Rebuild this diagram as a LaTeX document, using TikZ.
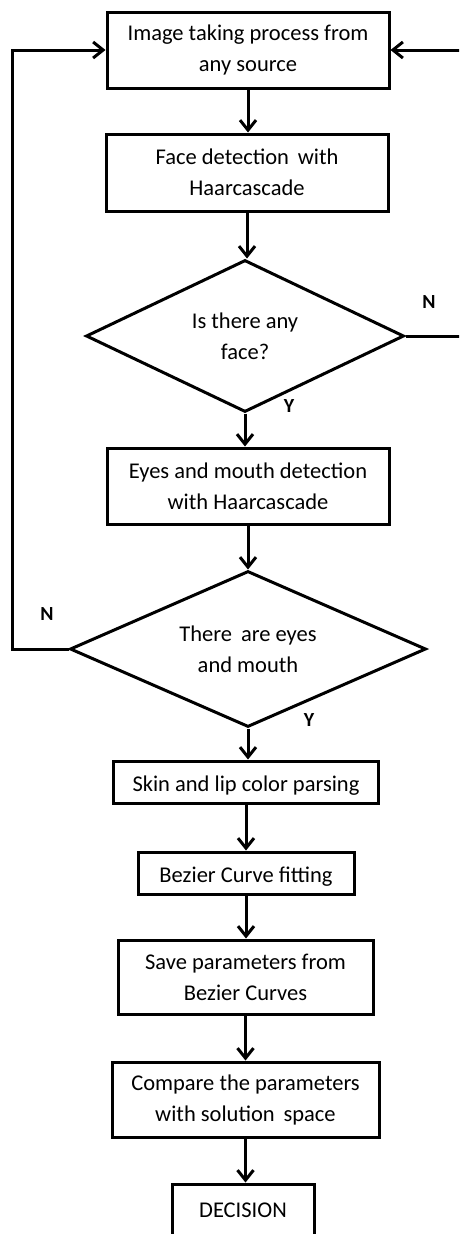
\documentclass[tikz,border=0pt]{standalone}
\usepackage{fontspec}
\setmainfont{Carlito}
\usetikzlibrary{shapes.geometric,arrows.meta}
\begin{document}
\begin{tikzpicture}[x=1pt,y=-1pt,
  every node/.style={font=\fontsize{22.5}{31}\selectfont},
  procbox/.style={draw,line width=3pt,rectangle,inner sep=0pt,align=center},
  decbox/.style={draw,line width=3pt,diamond,aspect=2.1,inner sep=0pt,align=center},
  yn/.style={font=\fontsize{20}{22}\selectfont\bfseries},
  arr/.style={line width=3pt,-{Straight Barb[length=10pt,width=16pt]}},
  ln/.style={line width=3pt}]
\clip (0,0) rectangle (459,1234);
\fill[white] (0,0) rectangle (459,1234);
\node[procbox,minimum width=282pt,minimum height=76pt] (b1) at (248,50) {Image taking process from\\any source};
\node[procbox,minimum width=282pt,minimum height=77pt] (b2) at (247,172.5) {Face detection\, with\\Haarcascade};
\node[decbox,minimum width=318pt,minimum height=152pt] (d1) at (245,336) {Is there any\\face?};
\node[procbox,minimum width=282pt,minimum height=76pt] (b3) at (248,486) {Eyes and mouth detection\\with Haarcascade};
\node[decbox,minimum width=356pt,minimum height=156pt] (d2) at (248,649) {There\, are eyes\\and mouth};
\node[procbox,minimum width=265pt,minimum height=42pt] (b4) at (246,782) {};
\node (t4) at (246,786) {Skin and lip color parsing};
\node[procbox,minimum width=216pt,minimum height=42pt] (b5) at (246,873) {};
\node (t5) at (246,877) {Bezier Curve fitting};
\node[procbox,minimum width=255pt,minimum height=74pt] (b6) at (245.5,977) {Save parameters from\\Bezier Curves};
\node[procbox,minimum width=267pt,minimum height=75pt] (b7) at (245.5,1099.5) {Compare the parameters\\with solution\, space};
\node[procbox,minimum width=142pt,minimum height=56pt] (b8) at (243,1212) {};
\node (t8) at (243,1210) {DECISION};
\node[yn] (n1) at (429,302) {N};
\node[yn] (y1) at (289,406) {Y};
\node[yn] (n2) at (47,614) {N};
\node[yn] (y2) at (309,720) {Y};
\coordinate (lc1) at (12,649);
\coordinate (lc2) at (12,50);
\coordinate (rc1) at (462,50);
\coordinate (rc2) at (462,336);
\draw[arr] (b1.south) -- (b1.south |- b2.north);
\draw[arr] (b2.south) -- (b2.south |- d1.north);
\draw[arr] (d1.south) -- (d1.south |- b3.north);
\draw[arr] (b3.south) -- (b3.south |- d2.north);
\draw[arr] (d2.south) -- (d2.south |- b4.north);
\draw[arr] (b4.south) -- (b4.south |- b5.north);
\draw[arr] (b5.south) -- (b5.south |- b6.north);
\draw[arr] (b6.south) -- (b6.south |- b7.north);
\draw[arr] (b7.south) -- (b7.south |- b8.north);
\draw[arr] (d2.west) -- (lc1) -- (lc2) -- (b1.west);
\draw[arr] (rc1) -- (b1.east);
\draw[ln] (d1.east) -- (rc2);
\end{tikzpicture}
\end{document}
